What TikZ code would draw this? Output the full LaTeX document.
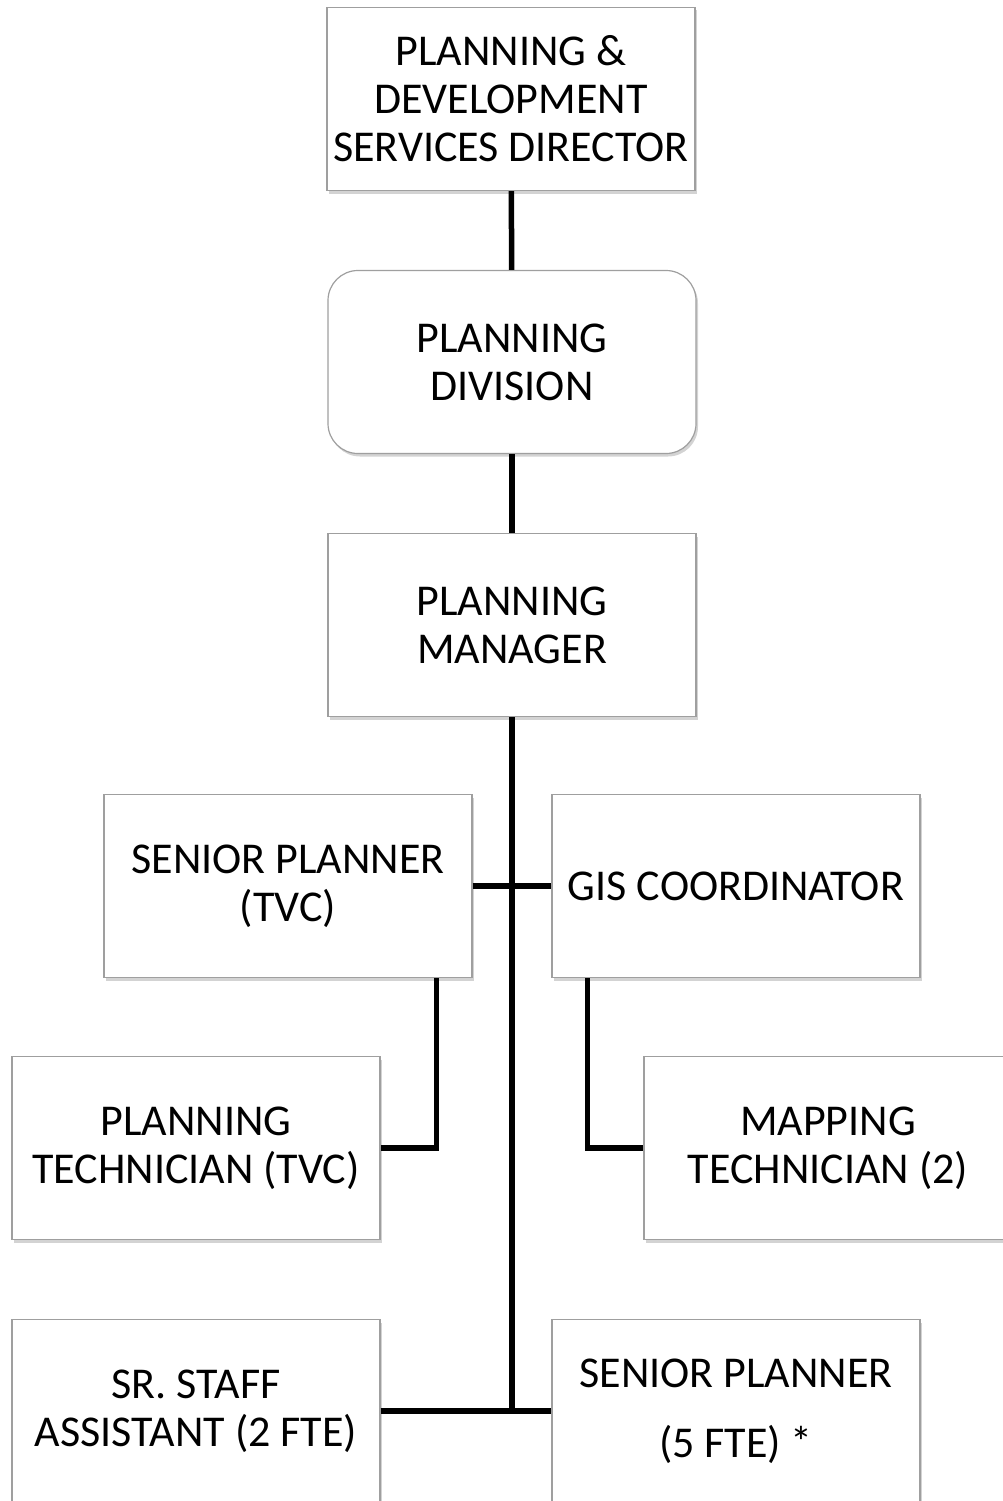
\documentclass[tikz,border=0pt]{standalone}
\usepackage{fontspec}
\setmainfont{Carlito}
\usetikzlibrary{shadows}

\begin{document}
\begin{tikzpicture}[x=1pt,y=-1pt,
  post/.style={draw=gray!75,line width=1.2pt,fill=white,minimum width=368pt,minimum height=183pt,
    align=center,inner sep=0pt,font=\fontsize{44}{48}\selectfont,
    drop shadow={shadow xshift=2pt,shadow yshift=-3pt,opacity=.35,fill=gray}},
  link/.style={line width=5.5pt}]
\useasboundingbox (0,0) rectangle (1003,1501);

\node[post] (dir) at (511,99) {PLANNING \&\\DEVELOPMENT\\SERVICES DIRECTOR};
\node[post,rounded corners=30pt] (div) at (512,362) {PLANNING\\DIVISION};
\node[post] (mgr) at (512,625) {PLANNING\\MANAGER};
\node[post] (sp1) at (288,886) {SENIOR PLANNER\\(TVC)};
\node[post] (gis) at (736,886) {GIS COORDINATOR};
\node[post] (pt1) at (196,1148) {PLANNING\\TECHNICIAN (TVC)};
\node[post] (map) at (828,1148) {MAPPING\\TECHNICIAN (2)};
\node[post] (ssa) at (196,1411) {SR. STAFF\\ASSISTANT (2 FTE)};
\node[post,font=\fontsize{44}{70}\selectfont] (sp5) at (736,1411) {SENIOR PLANNER\\(5 FTE) *};

\draw[link] (dir) -- (div);
\draw[link] (div) -- (mgr);
\draw[link] (mgr.south) -- (mgr.south |- ssa.east);
\draw[link] (sp1.east) -- (gis.west);
\draw[link] (ssa.east) -- (sp5.west);
\draw[link] (sp1.south east) ++(-36,0) |- (pt1.east);
\draw[link] (gis.south west) ++(36,0) |- (map.west);
\end{tikzpicture}
\end{document}
